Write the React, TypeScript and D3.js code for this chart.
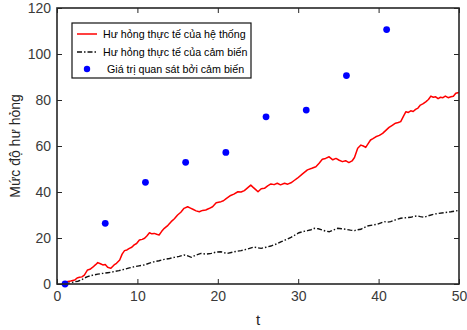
import { axisBottom, axisLeft, axisRight, axisTop, line, scaleLinear, select } from "d3";
import { useEffect, useRef } from "react";

// thiệt hại thực tế của hệ thống (t, giá trị)
const systemDamage: [number, number][] = [
  [1.0, 0.4], [1.2, 1.0], [1.7, 1.3], [2.2, 1.7], [2.5, 2.6], [2.8, 2.9],
  [3.1, 3.1], [3.4, 3.9], [3.8, 6.1], [4.1, 6.4], [4.45, 7.3], [4.8, 8.4],
  [5.07, 9.3], [5.4, 8.8], [5.7, 8.3], [6.0, 8.5], [6.3, 7.3], [6.7, 6.8],
  [7.1, 8.3], [7.4, 9.0], [7.8, 10.4], [8.1, 13.0], [8.4, 14.5], [8.7, 14.8],
  [9.0, 15.5], [9.3, 16.0], [9.6, 17.0], [9.9, 17.6], [10.25, 19.1], [10.6, 19.4],
  [10.9, 19.9], [11.2, 21.0], [11.5, 22.3], [11.8, 21.8], [12.1, 22.0], [12.4, 21.6],
  [12.7, 21.3], [13.0, 22.8], [13.35, 24.2], [13.8, 25.5], [14.2, 27.1], [14.6, 28.4],
  [15.0, 30.0], [15.4, 31.2], [15.8, 32.9], [16.25, 33.6], [16.6, 33.0], [16.9, 32.5],
  [17.3, 31.8], [17.7, 31.4], [18.1, 32.0], [18.5, 32.2], [18.9, 32.8], [19.35, 33.6],
  [19.8, 35.3], [20.4, 35.8], [20.7, 36.2], [21.0, 37.0], [21.6, 38.5], [22.0, 39.1],
  [22.5, 40.1], [22.9, 40.0], [23.3, 40.6], [23.7, 41.8], [24.1, 43.0], [24.4, 42.0],
  [24.75, 40.9], [25.0, 40.1], [25.4, 41.4], [25.8, 41.6], [26.2, 42.7], [26.6, 43.5],
  [27.0, 43.2], [27.4, 43.8], [27.8, 43.1], [28.3, 43.8], [28.7, 43.4], [29.1, 44.0],
  [29.5, 45.0], [29.9, 46.0], [30.5, 47.8], [31.15, 49.6], [31.7, 50.3], [32.2, 51.0],
  [32.6, 52.5], [33.0, 54.2], [33.4, 54.6], [33.85, 55.3], [34.3, 54.0], [34.7, 54.6],
  [35.1, 53.8], [35.5, 53.2], [35.9, 53.6], [36.3, 52.8], [36.7, 53.5], [37.0, 55.0],
  [37.4, 59.0], [37.8, 60.4], [38.1, 60.0], [38.4, 59.4], [38.7, 61.0], [39.0, 62.6],
  [39.3, 63.2], [39.65, 64.0], [40.1, 64.6], [40.5, 65.5], [40.9, 66.8], [41.3, 68.1],
  [41.7, 69.0], [42.1, 69.9], [42.45, 70.2], [42.75, 70.6], [43.1, 73.0], [43.4, 74.9],
  [43.7, 74.6], [44.0, 75.3], [44.3, 75.0], [44.6, 75.9], [44.9, 76.5], [45.2, 77.8],
  [45.55, 78.4], [45.9, 79.3], [46.2, 80.2], [46.5, 81.7], [46.8, 81.2], [47.1, 81.4],
  [47.4, 80.6], [47.7, 81.2], [48.0, 81.0], [48.3, 81.7], [48.65, 81.0], [49.0, 81.4],
  [49.3, 81.6], [49.6, 82.9], [50.0, 83.3],
];

// thiệt hại thực tế của cảm biến
const sensorDamage: [number, number][] = [
  [1.0, 0.2], [1.6, 0.5], [2.2, 1.0], [2.6, 1.2], [3.0, 1.7], [3.4, 2.6],
  [3.8, 3.2], [4.4, 3.8], [5.07, 4.3], [5.7, 4.6], [6.3, 4.9], [6.7, 5.1],
  [7.1, 5.4], [7.7, 5.8], [8.4, 6.4], [9.0, 7.0], [9.6, 7.5], [10.2, 7.9],
  [10.9, 8.3], [11.5, 9.1], [12.1, 9.7], [12.7, 10.1], [13.35, 10.7], [14.0, 11.1],
  [14.6, 11.6], [15.2, 12.0], [15.8, 12.6], [16.2, 12.3], [16.7, 11.6], [17.3, 12.6],
  [17.9, 13.3], [18.5, 13.0], [19.2, 13.3], [19.8, 13.9], [20.4, 14.0], [20.8, 13.6],
  [21.2, 13.3], [21.8, 13.8], [22.3, 14.2], [22.9, 14.5], [23.6, 15.1], [24.5, 16.1],
  [25.0, 15.7], [25.4, 15.5], [26.0, 16.0], [26.6, 16.5], [27.3, 17.4], [27.9, 18.4],
  [28.5, 19.3], [29.1, 20.3], [29.6, 21.3], [30.1, 22.3], [30.6, 22.8], [31.15, 23.2],
  [31.6, 23.6], [32.0, 24.2], [32.5, 24.0], [33.0, 23.5], [33.4, 23.0], [33.85, 22.7],
  [34.4, 23.5], [34.9, 24.2], [35.4, 24.0], [35.9, 23.8], [36.5, 23.4], [37.0, 23.2],
  [37.4, 23.6], [37.8, 23.8], [38.2, 24.5], [38.6, 25.2], [39.2, 25.6], [39.85, 26.0],
  [40.3, 26.6], [40.7, 27.1], [41.1, 26.9], [41.5, 27.1], [42.1, 27.9], [42.75, 28.6],
  [43.4, 28.8], [44.0, 29.0], [44.4, 29.4], [44.8, 29.6], [45.2, 29.3], [45.65, 29.0],
  [46.3, 29.8], [46.9, 30.4], [47.5, 30.7], [48.1, 31.0], [48.6, 31.2], [49.0, 31.4],
  [49.5, 31.7], [50.0, 32.0],
];

// giá trị quan sát bởi cảm biến
const observedT = [1, 6, 11, 16, 21, 26, 31, 36, 41];
const observedV = [0, 26.4, 44.2, 52.9, 57.2, 72.7, 75.6, 90.6, 110.6];

const xTicks = [0, 10, 20, 30, 40, 50];
const yTicks = [0, 20, 40, 60, 80, 100, 120];

const legendLabels = [
  "Hư hỏng thực tế của hệ thống",
  "Hư hỏng thực tế của cảm biến",
  "Giá trị quan sát bởi cảm biến",
];

const width = 467;
const height = 330;
const margin = { top: 8, right: 8, bottom: 46, left: 57 };
const font = "Arial, 'Liberation Sans', sans-serif";
const axisColor = "#262626";
const dashDot = "5,2,1.5,2";

const App = () => {
  const ref = useRef<SVGSVGElement>(null);

  useEffect(() => {
    if (!ref.current) return;
    const svg = select(ref.current);
    svg.selectAll("*").remove();

    const x = scaleLinear().domain([0, 50]).range([margin.left, width - margin.right]);
    const y = scaleLinear().domain([0, 120]).range([height - margin.bottom, margin.top]);
    const [x0, x1] = x.range();
    const [y0, y1] = y.range();

    svg.append("rect").attr("width", width).attr("height", height).attr("fill", "#fff");

    const path = line<[number, number]>()
      .x((d) => x(d[0]))
      .y((d) => y(d[1]));

    svg
      .append("path")
      .datum(sensorDamage)
      .attr("d", path)
      .attr("fill", "none")
      .attr("stroke", "#111")
      .attr("stroke-width", 1.4)
      .attr("stroke-dasharray", dashDot);

    svg
      .append("path")
      .datum(systemDamage)
      .attr("d", path)
      .attr("fill", "none")
      .attr("stroke", "#ff0000")
      .attr("stroke-width", 1.5)
      .attr("stroke-linejoin", "round");

    svg
      .selectAll(".obs")
      .data(observedT.map((t, i) => [t, observedV[i]]))
      .join("circle")
      .classed("obs", true)
      .attr("cx", (d) => x(d[0]))
      .attr("cy", (d) => y(d[1]))
      .attr("r", 3.4)
      .attr("fill", "#0000ff");

    const styleAxis = (g: any, labels: boolean) => {
      g.select(".domain").remove();
      g.selectAll("line").attr("stroke", axisColor).attr("stroke-width", 1);
      g.selectAll("text")
        .attr("fill", labels ? "#3a3a3a" : "none")
        .style("font-family", font)
        .style("font-size", "14px");
    };

    svg
      .append("g")
      .attr("transform", `translate(0,${y0})`)
      .call(axisBottom(x).tickValues(xTicks).tickSizeInner(-5).tickSizeOuter(0).tickPadding(7))
      .call((g) => styleAxis(g, true));
    svg
      .append("g")
      .attr("transform", `translate(${x0},0)`)
      .call(axisLeft(y).tickValues(yTicks).tickSizeInner(-5).tickSizeOuter(0).tickPadding(6))
      .call((g) => styleAxis(g, true));
    svg
      .append("g")
      .attr("transform", `translate(0,${y1})`)
      .call(axisTop(x).tickValues(xTicks).tickSizeInner(-5).tickSizeOuter(0).tickFormat(() => ""))
      .call((g) => styleAxis(g, false));
    svg
      .append("g")
      .attr("transform", `translate(${x1},0)`)
      .call(axisRight(y).tickValues(yTicks).tickSizeInner(-5).tickSizeOuter(0).tickFormat(() => ""))
      .call((g) => styleAxis(g, false));

    svg
      .append("rect")
      .attr("x", x0)
      .attr("y", y1)
      .attr("width", x1 - x0)
      .attr("height", y0 - y1)
      .attr("fill", "none")
      .attr("stroke", axisColor)
      .attr("stroke-width", 1.6);

    // nhãn trục
    svg
      .append("text")
      .attr("x", (x0 + x1) / 2)
      .attr("y", 325)
      .attr("text-anchor", "middle")
      .attr("fill", "#262626")
      .style("font-family", font)
      .style("font-size", "15px")
      .text("t");
    svg
      .append("text")
      .attr("transform", `translate(20,${(y0 + y1) / 2}) rotate(-90)`)
      .attr("text-anchor", "middle")
      .attr("fill", "#262626")
      .style("font-family", font)
      .style("font-size", "14px")
      .text("Mức độ hư hỏng");

    // chú thích
    const lg = svg.append("g").attr("transform", "translate(72,23)");
    lg.append("rect")
      .attr("width", 179)
      .attr("height", 55)
      .attr("fill", "#fff")
      .attr("stroke", "#111")
      .attr("stroke-width", 1.2);
    const rowY = [11, 29, 46];
    lg.append("line")
      .attr("x1", 5).attr("x2", 25).attr("y1", rowY[0]).attr("y2", rowY[0])
      .attr("stroke", "#ff0000").attr("stroke-width", 1.5);
    lg.append("line")
      .attr("x1", 5).attr("x2", 25).attr("y1", rowY[1]).attr("y2", rowY[1])
      .attr("stroke", "#111").attr("stroke-width", 1.4).attr("stroke-dasharray", dashDot);
    lg.append("circle").attr("cx", 15).attr("cy", rowY[2]).attr("r", 3.2).attr("fill", "#0000ff");
    lg.selectAll(".lbl")
      .data(legendLabels)
      .join("text")
      .classed("lbl", true)
      .attr("x", (_, i) => (i === 2 ? 35 : 31))
      .attr("y", (_, i) => rowY[i])
      .attr("dy", "0.35em")
      .attr("fill", "#000")
      .style("font-family", font)
      .style("font-size", "10.7px")
      .text((d) => d);
  }, []);

  return <svg ref={ref} width={width} height={height} style={{ position: "absolute", left: 0, top: 0 }} />;
};

export default App;
